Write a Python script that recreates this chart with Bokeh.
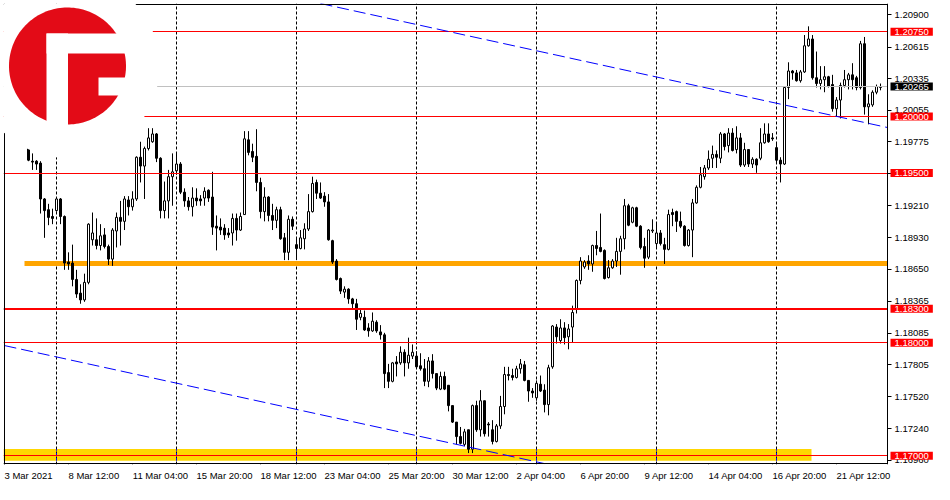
import numpy as np
from bokeh.plotting import figure
from bokeh.models import Range1d, LinearAxis, FixedTicker, PrintfTickFormatter, Label
from bokeh.embed import file_html
from bokeh.resources import INLINE

# ---------------- data (EURUSD, H4 bars; bar index 0 = Mon 8 Mar 2021 00:00) ----------------
bars = list(range(-7, 207))
opens = [1.19725, 1.19605, 1.19605, 1.19588, 1.19271, 1.19176, 1.19116,
 1.19168, 1.19271, 1.19116, 1.18713, 1.18704, 1.18559, 1.18438, 1.18378, 1.18533, 1.18910,
 1.18910, 1.18859, 1.18953, 1.18850, 1.18739, 1.18988, 1.19108, 1.19073, 1.19262, 1.19202,
 1.19271, 1.19640, 1.19562, 1.19717, 1.19777, 1.19846, 1.19631, 1.19168, 1.19254, 1.19468,
 1.19520, 1.19580, 1.19331, 1.19254, 1.19202, 1.19279, 1.19271, 1.19279, 1.19348, 1.19288,
 1.19030, 1.19022, 1.19013, 1.18970, 1.18970, 1.19099, 1.18996, 1.19133, 1.19794, 1.19691,
 1.19648, 1.19417, 1.19159, 1.19288, 1.19125, 1.19082, 1.19176, 1.18927, 1.18799, 1.19091,
 1.18867, 1.18833, 1.18919, 1.19005, 1.19159, 1.19417, 1.19322, 1.19296, 1.19245, 1.18902,
 1.18722, 1.18567, 1.18447, 1.18473, 1.18387, 1.18344, 1.18224, 1.18224, 1.18130, 1.18104,
 1.18181, 1.18095, 1.18069, 1.17735, 1.17658, 1.17829, 1.17821, 1.17915, 1.17821, 1.17881,
 1.17881, 1.17795, 1.17769, 1.17658, 1.17838, 1.17726, 1.17589, 1.17701, 1.17623, 1.17443,
 1.17297, 1.17169, 1.17100, 1.17229, 1.17057, 1.17443, 1.17229, 1.17486, 1.17280, 1.17229,
 1.17126, 1.17263, 1.17435, 1.17718, 1.17709, 1.17692, 1.17769, 1.17804, 1.17666, 1.17572,
 1.17512, 1.17632, 1.17580, 1.17452, 1.17786, 1.18138, 1.18018, 1.18130, 1.18052, 1.18138,
 1.18293, 1.18550, 1.18670, 1.18722, 1.18696, 1.18859, 1.18842, 1.18816, 1.18576, 1.18662,
 1.18722, 1.18807, 1.18919, 1.19211, 1.19065, 1.19193, 1.19030, 1.18850, 1.18756, 1.18988,
 1.18876, 1.18970, 1.18867, 1.18825, 1.19151, 1.19159, 1.19073, 1.19030, 1.18859, 1.18996,
 1.19236, 1.19374, 1.19468, 1.19545, 1.19631, 1.19665, 1.19631, 1.19846, 1.19743, 1.19854,
 1.19708, 1.19811, 1.19571, 1.19708, 1.19580, 1.19622, 1.19631, 1.19768, 1.19846, 1.19811,
 1.19725, 1.19614, 1.19580, 1.20257, 1.20403, 1.20386, 1.20317, 1.20395, 1.20626, 1.20686,
 1.20343, 1.20292, 1.20326, 1.20352, 1.20283, 1.20069, 1.20146, 1.20275, 1.20326, 1.20369,
 1.20343, 1.20257, 1.20644, 1.20086, 1.20103, 1.20215, 1.20257]
highs = [1.19734, 1.19674, 1.19614, 1.19605, 1.19279, 1.19228, 1.19185,
 1.19279, 1.19279, 1.19125, 1.18799, 1.18867, 1.18644, 1.18516, 1.18610, 1.19056, 1.19151,
 1.19099, 1.19048, 1.19013, 1.18867, 1.19013, 1.19151, 1.19254, 1.19296, 1.19296, 1.19339,
 1.19648, 1.19777, 1.19734, 1.19897, 1.19897, 1.19854, 1.19640, 1.19425, 1.19528, 1.19674,
 1.19674, 1.19597, 1.19365, 1.19288, 1.19374, 1.19365, 1.19305, 1.19374, 1.19356, 1.19511,
 1.19125, 1.19099, 1.19048, 1.19013, 1.19142, 1.19142, 1.19151, 1.19871, 1.19871, 1.19760,
 1.19888, 1.19459, 1.19374, 1.19296, 1.19228, 1.19202, 1.19202, 1.18970, 1.19125, 1.19116,
 1.18927, 1.18996, 1.19056, 1.19314, 1.19468, 1.19442, 1.19417, 1.19331, 1.19314, 1.18910,
 1.18739, 1.18576, 1.18498, 1.18481, 1.18396, 1.18387, 1.18301, 1.18284, 1.18172, 1.18267,
 1.18198, 1.18155, 1.18087, 1.17812, 1.17829, 1.17881, 1.17967, 1.17941, 1.18044, 1.17984,
 1.17924, 1.17906, 1.17855, 1.17872, 1.17898, 1.17726, 1.17743, 1.17743, 1.17623, 1.17443,
 1.17297, 1.17254, 1.17237, 1.17229, 1.17452, 1.17486, 1.17580, 1.17486, 1.17297, 1.17314,
 1.17280, 1.17529, 1.17786, 1.17786, 1.17769, 1.17795, 1.17855, 1.17838, 1.17666, 1.17598,
 1.17666, 1.17709, 1.17632, 1.17804, 1.18155, 1.18164, 1.18207, 1.18181, 1.18164, 1.18327,
 1.18559, 1.18756, 1.18730, 1.18773, 1.18867, 1.18988, 1.19142, 1.18825, 1.18730, 1.18739,
 1.18927, 1.18945, 1.19271, 1.19228, 1.19202, 1.19202, 1.19039, 1.18927, 1.19005, 1.19091,
 1.19056, 1.18996, 1.18927, 1.19176, 1.19185, 1.19168, 1.19159, 1.19039, 1.19005, 1.19271,
 1.19391, 1.19554, 1.19571, 1.19700, 1.19743, 1.19700, 1.19863, 1.19854, 1.19897, 1.19897,
 1.19914, 1.19854, 1.19768, 1.19708, 1.19640, 1.19631, 1.19897, 1.19940, 1.19940, 1.19854,
 1.19768, 1.19640, 1.20266, 1.20480, 1.20412, 1.20412, 1.20412, 1.20721, 1.20798, 1.20721,
 1.20575, 1.20446, 1.20446, 1.20360, 1.20369, 1.20172, 1.20300, 1.20412, 1.20386, 1.20472,
 1.20360, 1.20669, 1.20704, 1.20197, 1.20232, 1.20283, 1.20292]
lows = [1.19605, 1.19528, 1.19528, 1.19142, 1.18927, 1.19039, 1.19048,
 1.19159, 1.19048, 1.18644, 1.18644, 1.18498, 1.18396, 1.18344, 1.18361, 1.18516, 1.18859,
 1.18825, 1.18816, 1.18833, 1.18687, 1.18679, 1.18842, 1.18859, 1.18996, 1.19125, 1.19168,
 1.19254, 1.19417, 1.19271, 1.19700, 1.19768, 1.19597, 1.19099, 1.19099, 1.19099, 1.19211,
 1.19485, 1.19314, 1.19202, 1.19168, 1.19116, 1.19211, 1.19211, 1.19211, 1.19245, 1.18953,
 1.18816, 1.18953, 1.18910, 1.18927, 1.18859, 1.18902, 1.18988, 1.19133, 1.19657, 1.19597,
 1.19339, 1.19099, 1.19073, 1.19073, 1.18996, 1.19013, 1.18910, 1.18730, 1.18730, 1.18996,
 1.18730, 1.18825, 1.18825, 1.18988, 1.19151, 1.19271, 1.19271, 1.19202, 1.18902, 1.18696,
 1.18550, 1.18430, 1.18396, 1.18344, 1.18301, 1.18112, 1.18198, 1.18104, 1.18052, 1.18095,
 1.18087, 1.18027, 1.17598, 1.17598, 1.17649, 1.17701, 1.17804, 1.17701, 1.17769, 1.17855,
 1.17769, 1.17752, 1.17615, 1.17606, 1.17683, 1.17580, 1.17580, 1.17580, 1.17392, 1.17289,
 1.17100, 1.17100, 1.17083, 1.17023, 1.17023, 1.17211, 1.17169, 1.17169, 1.17169, 1.17100,
 1.17117, 1.17237, 1.17366, 1.17666, 1.17666, 1.17683, 1.17726, 1.17658, 1.17477, 1.17512,
 1.17486, 1.17563, 1.17383, 1.17357, 1.17769, 1.17992, 1.17992, 1.17984, 1.17941, 1.18001,
 1.18258, 1.18516, 1.18653, 1.18644, 1.18627, 1.18773, 1.18799, 1.18559, 1.18567, 1.18653,
 1.18670, 1.18601, 1.18825, 1.19030, 1.19056, 1.19022, 1.18825, 1.18662, 1.18739, 1.18970,
 1.18842, 1.18859, 1.18696, 1.18816, 1.19030, 1.18979, 1.19013, 1.18850, 1.18850, 1.18756,
 1.19228, 1.19365, 1.19442, 1.19528, 1.19545, 1.19545, 1.19588, 1.19700, 1.19683, 1.19691,
 1.19674, 1.19554, 1.19554, 1.19554, 1.19545, 1.19502, 1.19614, 1.19760, 1.19768, 1.19785,
 1.19597, 1.19417, 1.19571, 1.20154, 1.20326, 1.20309, 1.20300, 1.20386, 1.20618, 1.20326,
 1.20257, 1.20240, 1.20215, 1.20257, 1.20043, 1.20000, 1.19983, 1.20257, 1.20240, 1.20240,
 1.20232, 1.20240, 1.20017, 1.19931, 1.20086, 1.20197, 1.20232]
closes = [1.19614, 1.19597, 1.19580, 1.19271, 1.19168, 1.19108, 1.19099,
 1.19271, 1.19116, 1.18704, 1.18696, 1.18559, 1.18430, 1.18378, 1.18533, 1.19048, 1.18970,
 1.18859, 1.18945, 1.18850, 1.18739, 1.18996, 1.19108, 1.19073, 1.19271, 1.19202, 1.19271,
 1.19640, 1.19562, 1.19717, 1.19811, 1.19846, 1.19631, 1.19168, 1.19254, 1.19468, 1.19511,
 1.19580, 1.19331, 1.19254, 1.19202, 1.19279, 1.19254, 1.19254, 1.19339, 1.19279, 1.19022,
 1.19013, 1.18996, 1.18953, 1.18953, 1.19099, 1.18996, 1.19116, 1.19803, 1.19683, 1.19640,
 1.19417, 1.19159, 1.19288, 1.19125, 1.19082, 1.19176, 1.18919, 1.18799, 1.19091, 1.19030,
 1.18833, 1.18927, 1.19005, 1.19159, 1.19408, 1.19322, 1.19279, 1.19245, 1.18910, 1.18713,
 1.18559, 1.18456, 1.18473, 1.18387, 1.18344, 1.18207, 1.18258, 1.18112, 1.18104, 1.18190,
 1.18104, 1.18069, 1.17726, 1.17658, 1.17821, 1.17812, 1.17915, 1.17821, 1.17889, 1.17915,
 1.17786, 1.17769, 1.17658, 1.17838, 1.17726, 1.17598, 1.17701, 1.17589, 1.17443, 1.17297,
 1.17169, 1.17109, 1.17211, 1.17057, 1.17443, 1.17229, 1.17486, 1.17194, 1.17272, 1.17126,
 1.17263, 1.17435, 1.17718, 1.17709, 1.17692, 1.17769, 1.17812, 1.17666, 1.17572, 1.17555,
 1.17640, 1.17572, 1.17452, 1.17778, 1.18147, 1.18052, 1.18130, 1.18044, 1.18121, 1.18267,
 1.18550, 1.18722, 1.18713, 1.18696, 1.18859, 1.18833, 1.18807, 1.18567, 1.18662, 1.18722,
 1.18807, 1.18919, 1.19211, 1.19039, 1.19193, 1.19030, 1.18842, 1.18747, 1.18996, 1.18996,
 1.18970, 1.18876, 1.18825, 1.19133, 1.19133, 1.19073, 1.19030, 1.18859, 1.18996, 1.19236,
 1.19374, 1.19485, 1.19545, 1.19622, 1.19665, 1.19640, 1.19846, 1.19734, 1.19854, 1.19700,
 1.19811, 1.19571, 1.19708, 1.19580, 1.19622, 1.19571, 1.19768, 1.19846, 1.19777, 1.19803,
 1.19614, 1.19580, 1.20257, 1.20403, 1.20386, 1.20317, 1.20395, 1.20626, 1.20686, 1.20343,
 1.20292, 1.20326, 1.20352, 1.20266, 1.20069, 1.20146, 1.20275, 1.20326, 1.20369, 1.20326,
 1.20257, 1.20644, 1.20086, 1.20112, 1.20215, 1.20266, 1.20265]

x_tick_bars = [-13, 3, 19, 35, 51, 67, 83, 99, 115, 131, 147, 163, 179, 195]
x_tick_labels = ["3 Mar 2021", "8 Mar 12:00", "11 Mar 04:00", "15 Mar 20:00", "18 Mar 12:00",
                 "23 Mar 04:00", "25 Mar 20:00", "30 Mar 12:00", "2 Apr 04:00", "6 Apr 20:00",
                 "9 Apr 12:00", "14 Apr 04:00", "16 Apr 20:00", "21 Apr 12:00"]
y_ticks = [1.20900, 1.20615, 1.20335, 1.20055, 1.19775, 1.19495, 1.19210, 1.18930,
           1.18650, 1.18365, 1.18085, 1.17805, 1.17520, 1.17240, 1.16960]
week_separators = [0, 30, 60, 90, 120, 150, 180]
red_levels = [1.20750, 1.20000, 1.19500, 1.18300, 1.18000, 1.17000]
red_level_widths = [1, 1, 1, 2, 1, 1]
orange_level = 1.18700
orange_start_bar = -8
last_price = 1.20265
zone_bottom, zone_top, zone_end_bar = 1.16955, 1.17060, 188.75
upper_trend_bars, upper_trend_prices = [66, 212], [1.21000, 1.19870]
lower_trend_bars, lower_trend_prices = [-13, 122], [1.17974, 1.16930]

# ---------------- layout ----------------
W, H = 934, 484
BL, BT, BB = 3, 3, 20
SCALE_W = 47                 # width of the price-scale strip at the right
FW, FH = W - BL, H - BT - BB
CHART_W = FW - SCALE_W
PXB = 4.0                    # pixels per bar
X0 = -13.25
XA = X0 + CHART_W / PXB      # x of the price axis (right edge of the chart area)
X1 = X0 + FW / PXB
Y0, Y1 = 1.16922, 1.21000
ppy = (Y1 - Y0) / FH

def snap(v, width=1):
    n = (Y1 - v) / ppy
    n = np.round(n) if width % 2 == 1 else np.floor(n) + 0.5
    return float(Y1 - n * ppy)

p = figure(width=W, height=H, output_backend="svg", toolbar_location=None,
           x_range=Range1d(X0, X1), y_range=Range1d(Y0, Y1),
           x_axis_location=None, y_axis_location=None,
           min_border_left=BL, min_border_top=BT, min_border_right=0, min_border_bottom=BB,
           background_fill_color="white", border_fill_color="white", outline_line_color=None)
p.xgrid.visible = False
p.ygrid.visible = False

FONT = "Liberation Sans"
FS = "9.5px"

def style(ax):
    ax.axis_line_color = "black"
    ax.axis_line_width = 1
    ax.major_tick_line_color = "black"
    ax.major_tick_in = 0
    ax.major_tick_out = 4
    ax.minor_tick_line_color = None
    ax.major_label_text_font = FONT
    ax.major_label_text_font_size = FS
    ax.major_label_text_color = "black"

# price scale, drawn at the right edge of the chart area
yaxis = LinearAxis(ticker=FixedTicker(ticks=y_ticks), formatter=PrintfTickFormatter(format="%.5f"),
                   fixed_location=XA)
style(yaxis)
yaxis.major_label_standoff = 3
p.add_layout(yaxis, "right")

# time scale: tick marks at the bar positions ...
xticks = LinearAxis(ticker=FixedTicker(ticks=x_tick_bars), fixed_location=Y0,
                    major_label_overrides={b: "" for b in x_tick_bars})
style(xticks)
xticks.axis_line_color = None
p.add_layout(xticks, "below")

# ... and labels that start at the tick (left aligned, as in MetaTrader)
EM = {" ": 0.278, ":": 0.278, "M": 0.833, "A": 0.667, "a": 0.556, "r": 0.333, "p": 0.556}
def text_px(s):
    return sum(EM.get(ch, 0.556) for ch in s) * 9.5
label_pos = [b + text_px(t) / 2 / PXB for b, t in zip(x_tick_bars, x_tick_labels)]
xlabels = LinearAxis(ticker=FixedTicker(ticks=label_pos),
                     major_label_overrides={lp: t for lp, t in zip(label_pos, x_tick_labels)})
style(xlabels)
xlabels.axis_line_color = None
xlabels.major_tick_line_color = None
xlabels.major_tick_out = 0
xlabels.major_label_standoff = 5
p.add_layout(xlabels, "below")

# support zone (background rectangle)
p.quad(left=X0, right=zone_end_bar, bottom=zone_bottom, top=zone_top,
       fill_color="#FFD700", line_color=None)

# weekly period separators (shown blue where they cross the background zone)
p.segment(x0=week_separators, x1=week_separators, y0=Y0, y1=Y1,
          line_color="black", line_width=1, line_dash="3 2")
p.segment(x0=week_separators, x1=week_separators, y0=zone_bottom, y1=zone_top,
          line_color="#0000FF", line_width=1, line_dash="3 2")

# orange support line
ol = snap(orange_level, 5)
p.segment(x0=[orange_start_bar], x1=[XA], y0=[ol], y1=[ol], line_color="#FFA500", line_width=5)

# candles
o = np.array(opens); c = np.array(closes)
body_top = np.maximum(o, c)
body_bot = np.minimum(o, c)
fills = ["white" if cc >= oo else "black" for oo, cc in zip(opens, closes)]
p.segment(x0=bars, x1=bars, y0=lows, y1=highs, line_color="black", line_width=1)
p.vbar(x=bars, width=0.5, top=body_top, bottom=body_bot,
       fill_color=fills, line_color="black", line_width=1)

# horizontal levels
for lv, lw in zip(red_levels, red_level_widths):
    yy = snap(lv, lw)
    p.segment(x0=[X0], x1=[XA], y0=[yy], y1=[yy], line_color="#FF0000", line_width=lw)
lp_y = snap(last_price)
p.segment(x0=[X0], x1=[XA], y0=[lp_y], y1=[lp_y], line_color="#C0C0C0", line_width=1)

# trend channel (rays, clipped at the price scale)
def ray(bx, py, x_end):
    slope = (py[1] - py[0]) / (bx[1] - bx[0])
    return [bx[0], x_end], [py[0], py[0] + slope * (x_end - bx[0])]
ux, uy = ray(upper_trend_bars, upper_trend_prices, XA)
p.line(ux, uy, line_color="#0000FF", line_width=1, line_dash="12 5")
p.line(lower_trend_bars, lower_trend_prices, line_color="#0000FF", line_width=1, line_dash="12 5")

# chart border (left / top / bottom)
p.segment(x0=[-13], x1=[-13], y0=[Y0], y1=[Y1], line_color="black", line_width=1)
p.segment(x0=[X0], x1=[XA], y0=[Y1 - ppy], y1=[Y1 - ppy], line_color="black", line_width=1)
p.segment(x0=[X0], x1=[XA], y0=[Y0 + ppy], y1=[Y0 + ppy], line_color="black", line_width=1)

# logo (decoration, drawn in pixel offsets from the frame's top-left corner)
def lx(px):
    return X0 + np.asarray(px, dtype=float) / PXB

def ly(py):
    return Y1 - np.asarray(py, dtype=float) * ppy

th = np.linspace(0, 2 * np.pi, 160)
cx, cy = 64, 62.5
p.patch(lx(cx + 92 * np.cos(th)), ly(cy + 92 * np.sin(th)), fill_color="white", line_color=None)
p.patch(lx(cx + 58.5 * np.cos(th)), ly(cy + 58.5 * np.sin(th)), fill_color="#E30B17", line_color=None)
for l, r, t, b in [(43, 135, 30, 50), (43, 64.5, 30, 140), (95, 135, 74, 92)]:
    p.quad(left=[float(lx(l))], right=[float(lx(r))], top=[float(ly(t))], bottom=[float(ly(b))],
           fill_color="white", line_color=None)

# price tags on the right scale
def tag(level, color):
    p.add_layout(Label(x=XA, y=level, x_offset=3, text=f"{level:.5f}", text_align="left",
                       text_baseline="middle", text_color="white", text_font=FONT,
                       text_font_size=FS, background_fill_color=color, padding=(4, 1),
                       level="overlay"))
for lv in red_levels:
    tag(lv, "#FF0000")
tag(last_price, "black")

open("out.html", "w").write(file_html(p, INLINE))
